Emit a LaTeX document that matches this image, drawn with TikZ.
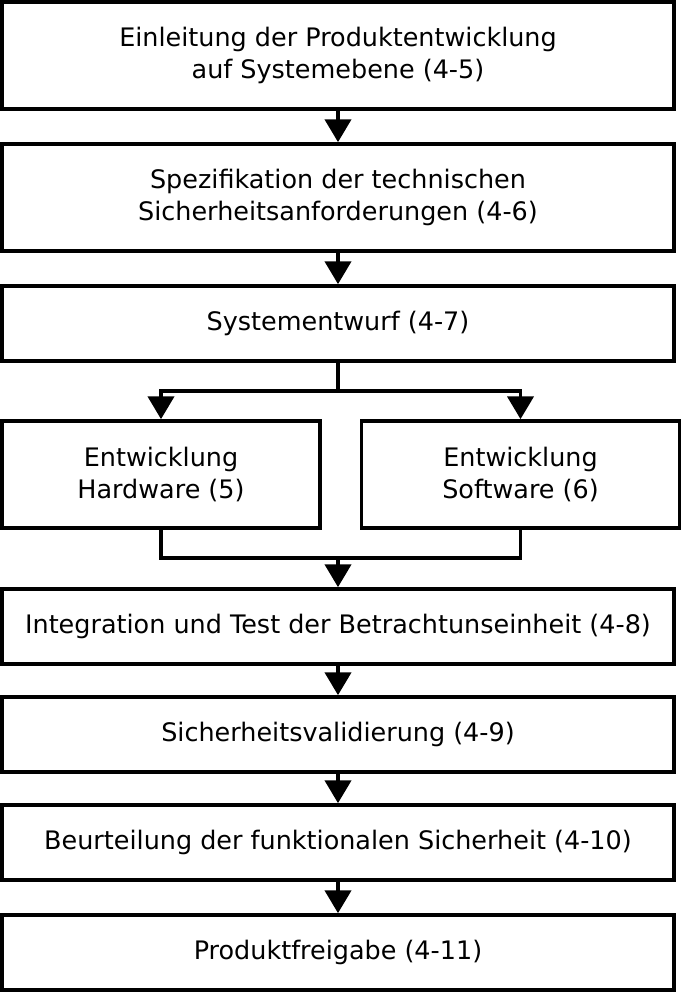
\documentclass[tikz,border=0pt]{standalone}
\usepackage{fontspec}
\setmainfont{DejaVu Sans}
\usetikzlibrary{arrows.meta}

\begin{document}
\begin{tikzpicture}[x=0.75pt,y=-0.75pt,
    line width=2.8pt,
    stage/.style={draw,line width=2.8pt,inner sep=0pt,align=center,
      font=\fontsize{19.1}{24}\selectfont,minimum width=672*0.75pt},
    tall/.style={minimum height=107*0.75pt},
    flat/.style={minimum height=75*0.75pt},
    half/.style={minimum width=318*0.75pt},
    flow/.style={-{Triangle[width=19.5pt,length=17pt]}}]
    \useasboundingbox (0,0) rectangle (682,992);
    % main chain
    \node[stage,tall] (intro) at (338,55.5) {Einleitung der Produktentwicklung\\auf Systemebene (4-5)};
    \node[stage,tall] (spec) at (338,197.5) {Spezifikation der technischen\\Sicherheitsanforderungen (4-6)};
    \node[stage,flat] (sys) at (338,323.5) {Systementwurf (4-7)};
    \node[stage,tall,half] (hw) at (161,474.5) {Entwicklung\\Hardware (5)};
    \node[stage,tall,half] (sw) at (520.5,474.5) {Entwicklung\\Software (6)};
    \node[stage,flat] (integ) at (338,626.5) {Integration und Test der Betrachtunseinheit (4-8)};
    \node[stage,flat] (valid) at (338,734.5) {Sicherheitsvalidierung (4-9)};
    \node[stage,flat] (assess) at (338,842.5) {Beurteilung der funktionalen Sicherheit (4-10)};
    \node[stage,flat] (release) at (338,952.5) {Produktfreigabe (4-11)};
    \coordinate (fork) at (338,391);
    \coordinate (join) at (338,558);
    % connectors
    \draw[flow] (intro) -- (spec);
    \draw[flow] (spec) -- (sys);
    \draw (sys) -- (fork);
    \draw[flow] (fork) -| (hw);
    \draw[flow] (fork) -| (sw);
    \draw (hw) |- (join);
    \draw (sw) |- (join);
    \draw[flow] (join) -- (integ);
    \draw[flow] (integ) -- (valid);
    \draw[flow] (valid) -- (assess);
    \draw[flow] (assess) -- (release);
\end{tikzpicture}
\end{document}
